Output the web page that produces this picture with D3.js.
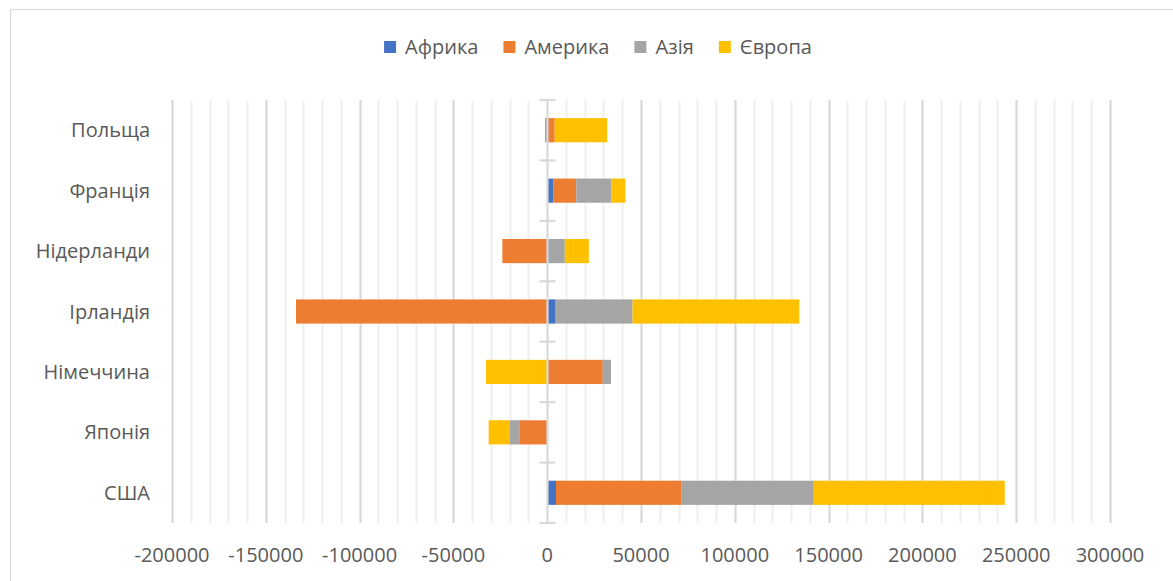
<!DOCTYPE html>
<html>
<head>
<meta charset="utf-8">
<script src="https://cdn.jsdelivr.net/npm/d3@7"></script>
<style>
  html, body { margin: 0; padding: 0; background: #fff; }
  svg { display: block; font-family: "Open Sans", "Liberation Sans", sans-serif; }
</style>
</head>
<body>
<svg id="chart" width="1173" height="581"></svg>
<script>
// Countries, top to bottom
const countries = ["Польща", "Франція", "Нідерланди", "Ірландія", "Німеччина", "Японія", "США"];
// Regions (stack order)
const regions = ["Африка", "Америка", "Азія", "Європа"];
const regionColors = ["#4472C4", "#ED7D31", "#A5A5A5", "#FFC000"];

// Values per region, in the same order as countries
const africa  = [0,     3400,   800,     4500,  0,      0,      4700];
const america = [4000,  12100, -23900, -133900, 29600, -14900,  67000];
const asia    = [-1200, 18700,  8600,   41000,  4400,  -5300,   70400];
const europe  = [28000, 7500,   12800,  88900, -32600, -11000, 101800];

const xTicks = [-200000, -150000, -100000, -50000, 0, 50000, 100000, 150000, 200000, 250000, 300000];
const xMin = -200000, xMax = 300000, minorStep = 10000;

const svg = d3.select("#chart");
const plot = { left: 172, right: 1110, top: 100, bottom: 523 };

// chart frame
svg.append("rect")
  .attr("x", 10.5).attr("y", 9.5)
  .attr("width", 1300).attr("height", 700)
  .attr("fill", "#fff").attr("stroke", "#d9d9d9").attr("stroke-width", 1.2);

const x = d3.scaleLinear().domain([xMin, xMax]).range([plot.left, plot.right]);
const y = d3.scaleBand().domain(countries).range([plot.top, plot.bottom])
  .paddingInner(0.6).paddingOuter(0.3);

// gridlines: minor then major
const minor = d3.range(xMin, xMax + 1, minorStep).filter(v => v % 50000 !== 0);
svg.append("g").selectAll("line").data(minor).join("line")
  .attr("x1", d => Math.round(x(d)) + 0.5).attr("x2", d => Math.round(x(d)) + 0.5)
  .attr("y1", plot.top).attr("y2", plot.bottom)
  .attr("stroke", "#efefef").attr("stroke-width", 2);
svg.append("g").selectAll("line").data(xTicks.filter(v => v !== 0)).join("line")
  .attr("x1", d => Math.round(x(d)) + 0.5).attr("x2", d => Math.round(x(d)) + 0.5)
  .attr("y1", plot.top).attr("y2", plot.bottom)
  .attr("stroke", "#d9d9d9").attr("stroke-width", 2.2);

// stacked bars, negatives stacked to the left of zero
const rows = countries.map((c, i) => ({
  country: c,
  "Африка": africa[i], "Америка": america[i], "Азія": asia[i], "Європа": europe[i]
}));
const stack = d3.stack().keys(regions).offset(d3.stackOffsetDiverging);
const series = stack(rows);

svg.append("g").selectAll("g").data(series).join("g")
  .attr("fill", (d, i) => regionColors[i])
  .selectAll("rect").data(d => d).join("rect")
  .attr("x", d => x(Math.min(d[0], d[1])))
  .attr("width", d => Math.abs(x(d[1]) - x(d[0])))
  .attr("y", d => y(d.data.country))
  .attr("height", y.bandwidth());

// vertical category axis at zero with cross tick marks
const x0 = Math.round(x(0)) + 0.5;
const axisG = svg.append("g");
axisG.append("line")
  .attr("x1", x0).attr("x2", x0).attr("y1", plot.top).attr("y2", plot.bottom)
  .attr("stroke", "#d9d9d9").attr("stroke-width", 2.2);
const boundaries = d3.range(countries.length + 1).map(i => plot.top + i * y.step());
axisG.selectAll("line.tick").data(boundaries).join("line")
  .attr("class", "tick")
  .attr("x1", x0 - 8).attr("x2", x0 + 8)
  .attr("y1", d => d).attr("y2", d => d)
  .attr("stroke", "#d9d9d9").attr("stroke-width", 2.2);

// category labels
svg.append("g").selectAll("text").data(countries).join("text")
  .attr("x", 150).attr("y", d => y(d) + y.bandwidth() / 2)
  .attr("dy", "0.35em").attr("text-anchor", "end")
  .attr("font-size", 20).attr("fill", "#595959")
  .text(d => d);

// value labels (plain hyphen for negatives)
svg.append("g").selectAll("text").data(xTicks).join("text")
  .attr("x", d => x(d)).attr("y", 562)
  .attr("text-anchor", "middle")
  .attr("font-size", 20).attr("fill", "#595959")
  .text(d => String(d));

// legend
const legend = svg.append("g");
const sw = 12, gapText = 9, gapItem = 25;
const items = legend.selectAll("g").data(regions).join("g");
items.append("rect").attr("width", sw).attr("height", sw)
  .attr("y", 41).attr("fill", (d, i) => regionColors[i]);
items.append("text").attr("x", sw + gapText).attr("y", 54)
  .attr("font-size", 20).attr("fill", "#595959").text(d => d);
let cursor = 0;
const offsets = [];
items.each(function() {
  offsets.push(cursor);
  const tw = d3.select(this).select("text").node().getComputedTextLength();
  cursor += sw + gapText + tw + gapItem;
});
const total = cursor - gapItem;
const start = 598 - total / 2;
items.attr("transform", (d, i) => `translate(${start + offsets[i]},0)`);
</script>
</body>
</html>
